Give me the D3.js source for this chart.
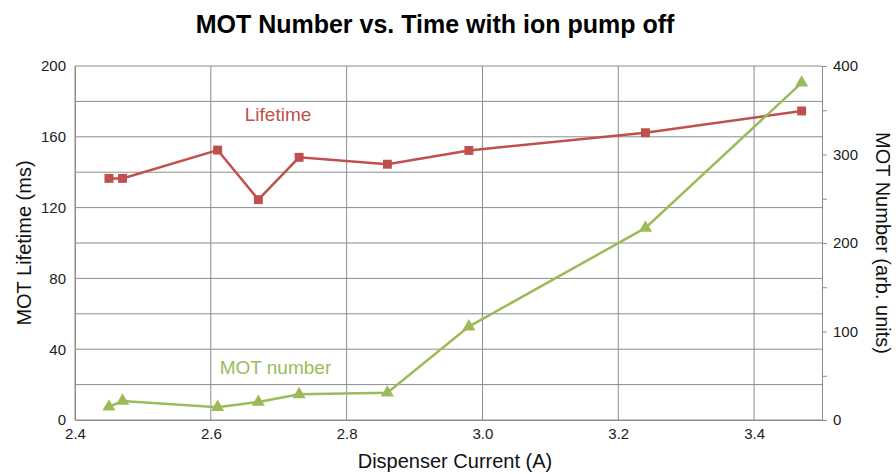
<!DOCTYPE html>
<html>
<head>
<meta charset="utf-8">
<script src="https://cdn.jsdelivr.net/npm/d3@7/dist/d3.min.js"></script>
<style>
  body { margin: 0; background: #fff; }
  svg { font-family: "Liberation Sans", Arial, sans-serif; }
</style>
</head>
<body>
<svg width="896" height="474"></svg>
<script>
// dispenser current (A) for each measurement
var current = [2.45, 2.47, 2.61, 2.67, 2.73, 2.86, 2.98, 3.24, 3.47];
// MOT lifetime (ms), left axis
var lifetime = [136.5, 136.5, 152.5, 124.5, 148.4, 144.5, 152.3, 162.3, 174.6];
// MOT number (arb. units), right axis
var motNumber = [15, 21.5, 14.5, 20.3, 29, 30.8, 105.5, 217, 381];

var xTicks = [2.4, 2.6, 2.8, 3.0, 3.2, 3.4];
var leftTicks = [0, 40, 80, 120, 160, 200];
var rightTicks = [0, 100, 200, 300, 400];

var margin = { top: 66, right: 74, bottom: 54, left: 75 },
    width = 896 - margin.left - margin.right,
    height = 474 - margin.top - margin.bottom;

var red = "#c0504d", green = "#9bbb59", grid = "#8c8c8c";

var svg = d3.select("svg");
var g = svg.append("g")
    .attr("transform", "translate(" + margin.left + "," + margin.top + ")");

var x = d3.scaleLinear().domain([2.4, 3.5]).range([0, width]);
var yL = d3.scaleLinear().domain([0, 200]).range([height, 0]);
var yR = d3.scaleLinear().domain([0, 400]).range([height, 0]);

// horizontal gridlines every 20 ms
g.append("g")
    .selectAll("line")
    .data(d3.range(0, 201, 20))
    .join("line")
    .attr("x1", 0).attr("x2", width)
    .attr("y1", d => yL(d)).attr("y2", d => yL(d))
    .style("stroke", grid).style("stroke-width", 1);

// vertical gridlines
g.append("g")
    .selectAll("line")
    .data(xTicks)
    .join("line")
    .attr("x1", d => x(d)).attr("x2", d => x(d))
    .attr("y1", 0).attr("y2", height)
    .style("stroke", grid).style("stroke-width", 1);

// bottom axis
var xAxis = g.append("g")
    .attr("transform", "translate(0," + height + ")")
    .call(d3.axisBottom(x).tickValues(xTicks).tickFormat(d3.format(".1f")).tickSize(0).tickPadding(8));
xAxis.select(".domain").style("stroke", grid);
xAxis.selectAll("text").style("font-size", "15px").style("fill", "#222");

// left axis
var leftAxis = g.append("g")
    .call(d3.axisLeft(yL).tickValues(leftTicks).tickSize(0).tickPadding(9));
leftAxis.select(".domain").style("stroke", grid);
leftAxis.selectAll("text").style("font-size", "15px").style("fill", "#222");

// right axis with minor ticks
var rightAxis = g.append("g")
    .attr("transform", "translate(" + width + ",0)")
    .call(d3.axisRight(yR).tickValues(d3.range(0, 401, 50)).tickSize(5).tickPadding(6)
        .tickFormat(d => rightTicks.includes(d) ? d : ""));
rightAxis.select(".domain").style("stroke", grid);
rightAxis.selectAll("line").style("stroke", grid);
rightAxis.selectAll("text").style("font-size", "15px").style("fill", "#222");

// lifetime line
var lifeLine = d3.line()
    .x(function(d, i) { return x(current[i]); })
    .y(function(d) { return yL(d); });

g.append("path")
    .datum(lifetime)
    .attr("d", lifeLine)
    .style("fill", "none").style("stroke", red).style("stroke-width", 2.5);

g.append("g")
    .selectAll("path")
    .data(lifetime)
    .join("path")
    .attr("d", d3.symbol().type(d3.symbolSquare).size(80))
    .attr("transform", (d, i) => "translate(" + x(current[i]) + "," + yL(d) + ")")
    .style("fill", red);

// MOT number line
var numLine = d3.line()
    .x(function(d, i) { return x(current[i]); })
    .y(function(d) { return yR(d); });

g.append("path")
    .datum(motNumber)
    .attr("d", numLine)
    .style("fill", "none").style("stroke", green).style("stroke-width", 2.5);

g.append("g")
    .selectAll("path")
    .data(motNumber)
    .join("path")
    .attr("d", d3.symbol().type(d3.symbolTriangle).size(75))
    .attr("transform", (d, i) => "translate(" + x(current[i]) + "," + yR(d) + ")")
    .style("fill", green);

// series labels
g.append("text")
    .attr("x", x(2.65)).attr("y", yL(169))
    .style("font-size", "19px").style("fill", red)
    .text("Lifetime");

g.append("text")
    .attr("x", x(2.613)).attr("y", yL(25.8))
    .style("font-size", "19px").style("fill", green)
    .text("MOT number");

// titles
svg.append("text")
    .attr("x", 435).attr("y", 33)
    .attr("text-anchor", "middle")
    .style("font-size", "25px").style("font-weight", "bold")
    .text("MOT Number vs. Time with ion pump off");

svg.append("text")
    .attr("x", 455).attr("y", 468)
    .attr("text-anchor", "middle")
    .style("font-size", "20px").style("fill", "#111")
    .text("Dispenser Current (A)");

svg.append("text")
    .attr("transform", "translate(31," + (margin.top + height / 2) + ") rotate(-90)")
    .attr("text-anchor", "middle")
    .style("font-size", "20px").style("fill", "#111")
    .text("MOT Lifetime (ms)");

svg.append("text")
    .attr("transform", "translate(876," + (margin.top + height / 2) + ") rotate(90)")
    .attr("text-anchor", "middle")
    .style("font-size", "20px").style("fill", "#111")
    .text("MOT Number (arb. units)");
</script>
</body>
</html>
